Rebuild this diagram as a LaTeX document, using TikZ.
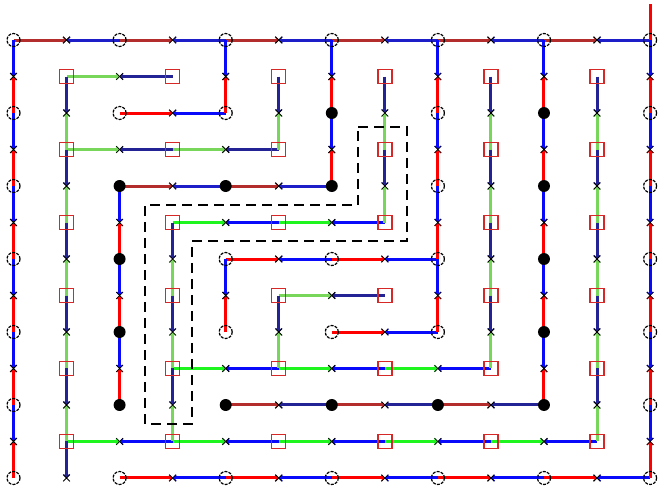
\documentclass[tikz,border=0pt]{standalone}
\usetikzlibrary{arrows.meta,shapes.misc,backgrounds}
\definecolor{pR}{RGB}{255,0,0}
\definecolor{pDR}{RGB}{180,45,45}
\definecolor{pB}{RGB}{10,10,250}
\definecolor{pMB}{RGB}{30,30,200}
\definecolor{pNB}{RGB}{35,35,150}
\definecolor{pG}{RGB}{30,245,30}
\definecolor{pLG}{RGB}{120,215,90}
\definecolor{sqred}{RGB}{215,40,40}
\newcommand\myH[5]{%
  \pgfmathtruncatemacro\myMi{#2+1}%
  \pgfmathtruncatemacro\myEi{#2+2}%
  \draw[edge,#4] (#1-#2-#3.center) -- (m-\myMi-#3.center);%
  \draw[edge,#5] (#1-\myEi-#3.center) -- (m-\myMi-#3.center);%
}
\newcommand\myV[5]{%
  \pgfmathtruncatemacro\myMj{#3+1}%
  \pgfmathtruncatemacro\myEj{#3+2}%
  \draw[edge,#4] (#1-#2-#3.center) -- (m-#2-\myMj.center);%
  \draw[edge,#5] (#1-#2-\myEj.center) -- (m-#2-\myMj.center);%
}
\tikzset{
  edge/.style={line width=3pt,-{Straight Barb[length=2.8pt,width=6pt,line width=1.1pt]}},
  opencirc/.style={circle,draw=black,line width=1.2pt,dash pattern=on 3pt off 1.2pt,minimum size=13pt,inner sep=0pt},
  filldot/.style={circle,fill=black,minimum size=12pt,inner sep=0pt},
  sq/.style={rectangle,draw=sqred,line width=1.4pt,minimum size=14pt,inner sep=0pt},
  xm/.style={cross out,draw=black,line width=0.8pt,minimum size=6pt,inner sep=0pt},
  dashbox/.style={line width=2.8pt,black,dash pattern=on 10pt off 6pt}
}
\begin{document}
\begin{tikzpicture}[x=53.05pt,y=-36.5pt]
\useasboundingbox (-0.2545,-1.0959) rectangle (12.168,12.384);
% grid points
\foreach \i/\j in {0/0,2/0,4/0,6/0,8/0,10/0,12/0,0/2,2/2,4/2,8/2,12/2,0/4,8/4,12/4,0/6,4/6,6/6,8/6,12/6,0/8,4/8,6/8,8/8,12/8,0/10,12/10,0/12,2/12,4/12,6/12,8/12,10/12,12/12}
  \node[opencirc] (c-\i-\j) at (\i,\j) {};
\foreach \i/\j in {6/2,10/2,2/4,4/4,6/4,10/4,2/6,10/6,2/8,10/8,2/10,4/10,6/10,8/10,10/10}
  \node[filldot] (c-\i-\j) at (\i,\j) {};
\foreach \i in {1,3,...,11} \foreach \j in {1,3,...,11}
  \node[sq] (s-\i-\j) at (\i,\j) {};
\foreach \i in {0,2,...,12} \foreach \j in {1,3,...,11}
  \node[xm] (m-\i-\j) at (\i,\j) {};
\foreach \i in {1,3,...,11} \foreach \j in {0,2,...,12}
  \node[xm] (m-\i-\j) at (\i,\j) {};
\coordinate (pexit) at (12,-1.0);
% dashed outline
\draw[dashbox] (6.494,2.384) -- (7.418,2.384) -- (7.418,5.507) -- (3.365,5.507) -- (3.365,10.52) -- (2.479,10.52) -- (2.479,4.521) -- (6.494,4.521) -- cycle;
\begin{pgfonlayer}{background}
\fill[white] (-0.2545,-1.0959) rectangle (12.168,12.384);
% primal tree (circles)
\foreach \k in {0,2,...,10} {\myH{c}{\k}{0}{pDR}{pMB}}
\myH{c}{2}{2}{pR}{pB}
\foreach \k in {2,4} {\myH{c}{\k}{4}{pDR}{pMB}}
\foreach \k in {4,6} {\myH{c}{\k}{6}{pR}{pB}}
\myH{c}{6}{8}{pR}{pB}
\foreach \k in {4,6,8} {\myH{c}{\k}{10}{pDR}{pNB}}
\foreach \k in {2,4,...,10} {\myH{c}{\k}{12}{pR}{pB}}
\foreach \k in {0,2,...,10} {\myV{c}{0}{\k}{pB}{pR}}
\foreach \k in {4,6,8} {\myV{c}{2}{\k}{pB}{pR}}
\foreach \k in {0,6} {\myV{c}{4}{\k}{pB}{pR}}
\foreach \k in {0,2} {\myV{c}{6}{\k}{pB}{pR}}
\foreach \k in {0,2,4,6} {\myV{c}{8}{\k}{pB}{pR}}
\foreach \k in {0,2,...,8} {\myV{c}{10}{\k}{pB}{pR}}
\foreach \k in {0,2,...,10} {\myV{c}{12}{\k}{pB}{pR}}
\draw[line width=3pt,pR] (c-12-0.center) -- (pexit);
% dual tree (squares)
\myH{s}{1}{1}{pLG}{pNB}
\foreach \k in {1,3} {\myH{s}{\k}{3}{pLG}{pNB}}
\foreach \k in {3,5} {\myH{s}{\k}{5}{pG}{pB}}
\myH{s}{5}{7}{pLG}{pNB}
\foreach \k in {3,5,7} {\myH{s}{\k}{9}{pG}{pB}}
\foreach \k in {1,3,...,9} {\myH{s}{\k}{11}{pG}{pB}}
\foreach \k in {1,3,...,9} {\myV{s}{1}{\k}{pNB}{pLG}}
\foreach \k in {5,7,9} {\myV{s}{3}{\k}{pNB}{pLG}}
\foreach \k in {1,7} {\myV{s}{5}{\k}{pNB}{pLG}}
\foreach \k in {1,3} {\myV{s}{7}{\k}{pNB}{pLG}}
\foreach \k in {1,3,5,7} {\myV{s}{9}{\k}{pNB}{pLG}}
\foreach \k in {1,3,...,9} {\myV{s}{11}{\k}{pNB}{pLG}}
\draw[edge,pNB] (s-1-11.center) -- (m-1-12.center);
\end{pgfonlayer}
\end{tikzpicture}
\end{document}
